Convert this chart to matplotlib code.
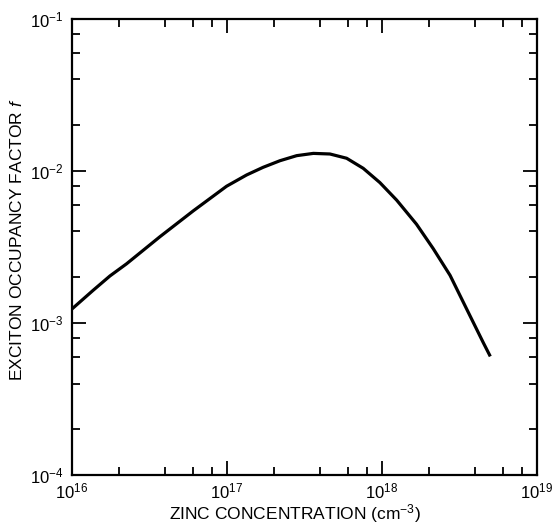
import matplotlib
matplotlib.use("Agg")
import matplotlib.pyplot as plt
from matplotlib.ticker import LogLocator, NullFormatter

plt.rcParams['font.family'] = ['Liberation Sans', 'DejaVu Sans']
plt.rcParams['mathtext.fontset'] = 'custom'
plt.rcParams['mathtext.rm'] = 'Liberation Sans'
plt.rcParams['mathtext.it'] = 'Liberation Sans:italic'

zinc_conc = [1.00e16, 1.37e16, 1.76e16, 2.25e16, 3.70e16, 6.07e16, 9.95e16, 1.34e17,
             1.71e17, 2.20e17, 2.82e17, 3.61e17, 4.62e17, 5.92e17, 7.57e17, 9.70e17,
             1.245e18, 1.67e18, 2.14e18, 2.75e18, 3.52e18, 4.51e18, 5.00e18]
occupancy = [1.236e-3, 1.64e-3, 2.04e-3, 2.45e-3, 3.698e-3, 5.47e-3, 7.94e-3, 9.42e-3,
             1.057e-2, 1.169e-2, 1.262e-2, 1.306e-2, 1.294e-2, 1.213e-2, 1.042e-2, 8.39e-3,
             6.43e-3, 4.47e-3, 3.09e-3, 2.06e-3, 1.236e-3, 7.41e-4, 6.03e-4]

x_label = "ZINC CONCENTRATION (cm$^{-3}$)"
y_label = "EXCITON OCCUPANCY FACTOR $\\mathit{f}$"

fig = plt.figure(figsize=(5.53, 5.25), dpi=100)
ax = fig.add_axes([0.130, 0.0952, 0.841, 0.8686])
ax.plot(zinc_conc, occupancy, color='black', lw=2.3,
        solid_joinstyle='round', solid_capstyle='butt')
ax.set_xscale('log')
ax.set_yscale('log')
ax.set_xlim(1e16, 1e19)
ax.set_ylim(1e-4, 1e-1)

for axis in (ax.xaxis, ax.yaxis):
    axis.set_major_locator(LogLocator(base=10, numticks=10))
    axis.set_minor_locator(LogLocator(base=10, subs=(2, 4, 6, 8), numticks=10))
    axis.set_minor_formatter(NullFormatter())

ax.tick_params(which='both', direction='in', top=True, right=True, width=1.3, labelsize=12)
ax.tick_params(which='major', length=10)
ax.tick_params(axis='x', which='major', pad=5)
ax.tick_params(axis='y', which='major', pad=6)
ax.tick_params(which='minor', length=6)
for s in ax.spines.values():
    s.set_linewidth(1.6)

ax.set_xlabel(x_label, fontsize=12.5, va='center')
ax.xaxis.set_label_coords(0.48, -0.0855)
ax.set_ylabel(y_label, fontsize=12.5, va='center')
ax.yaxis.set_label_coords(-0.117, 0.515)

fig.savefig("out.png", dpi=100)
